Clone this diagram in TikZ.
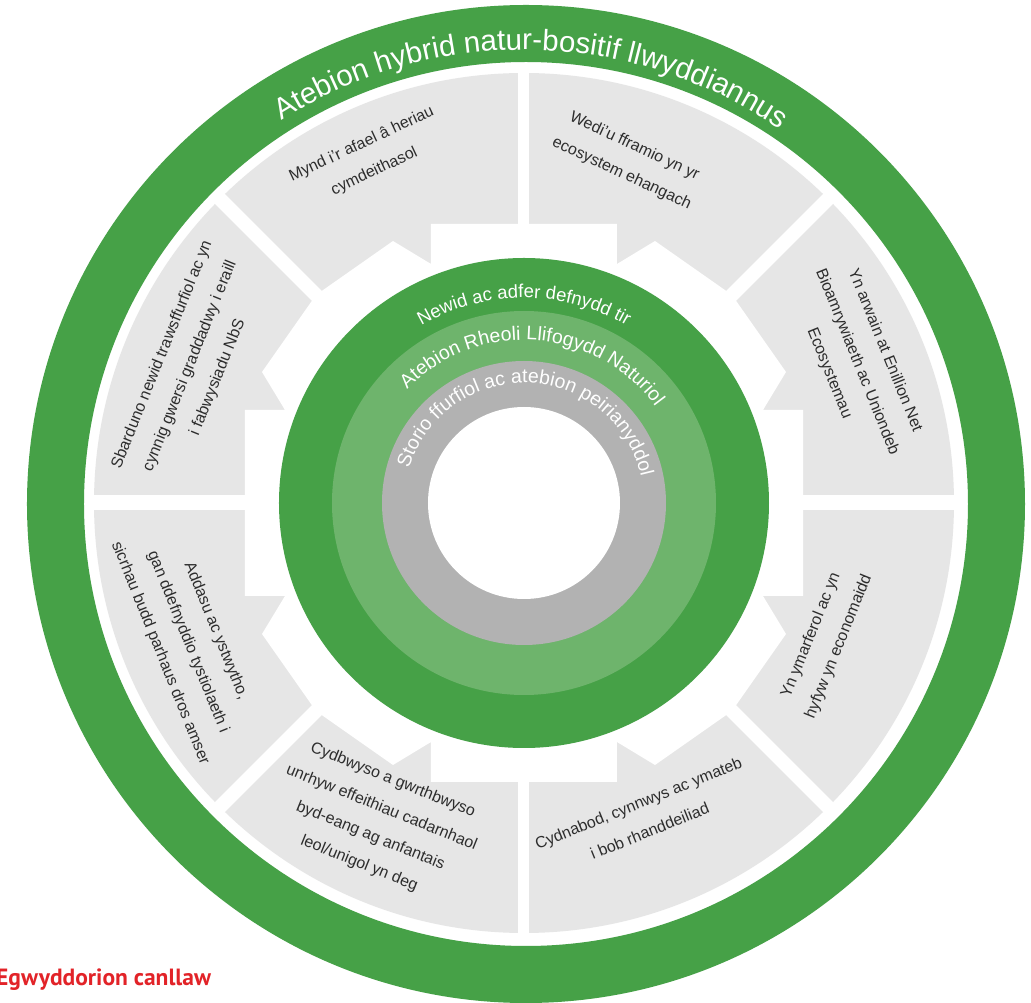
\documentclass[tikz,border=0pt]{standalone}
\usepackage{fontspec}
\setmainfont{Liberation Sans}
\newfontfamily\titlefnt{PT Sans}
\usetikzlibrary{decorations.text}
\definecolor{gdark}{RGB}{70,161,71}
\definecolor{glight}{RGB}{110,180,108}
\definecolor{gring}{RGB}{178,178,178}
\definecolor{gsect}{RGB}{230,230,230}
\definecolor{txtgray}{RGB}{45,45,45}
\definecolor{redt}{RGB}{226,35,40}
\newcommand{\myringtext}[4]{%
  \path[decorate,decoration={text along path,text align=center,text color=white,
    text={|\fontsize{#3}{#3}\selectfont|#4}}]
    ({#2+110}:#1pt) arc[start angle={#2+110}, end angle={#2-110}, radius=#1pt];}
\tikzset{
  secttext/.style={font=\fontsize{16}{30}\selectfont, text=txtgray, align=center, inner sep=0pt},
}
\begin{document}
\begin{tikzpicture}[x=1pt,y=1pt]
\useasboundingbox (-524,-500) rectangle (507,503);
\fill[white] (-524,-500) rectangle (507,503);
% gray sectors
\fill[gsect] (0,0) circle[radius=430pt];
\fill[white] (279,0) -- (279,93) -- (239,93) -- (262,131) -- (208,208)
  -- (131,262) -- (93,239) -- (93,279) -- (0,279)
  -- (-93,279) -- (-93,239) -- (-131,262) -- (-208,208)
  -- (-262,131) -- (-239,93) -- (-279,93) -- (-279,0)
  -- (-279,-93) -- (-239,-93) -- (-262,-131) -- (-208,-208)
  -- (-131,-262) -- (-93,-239) -- (-93,-279) -- (0,-279)
  -- (93,-279) -- (93,-239) -- (131,-262) -- (208,-208)
  -- (262,-131) -- (239,-93) -- (279,-93) -- cycle;
\foreach \a/\w in {0/15,45/14,90/11,135/14,180/15,225/14,270/11,315/14}
  \draw[white, line width=\w pt] (\a:250) -- (\a:436);
% outer green ring
\fill[gdark, even odd rule] (2,-1) circle[radius=499pt] (2,-1) circle[radius=442pt];
% inner rings
\fill[gdark] (0,0) circle[radius=245pt];
\fill[glight] (0,0) circle[radius=192pt];
\fill[gring] (0,0) circle[radius=142pt];
\fill[white] (0,0) circle[radius=96pt];
% ring texts
\myringtext{453}{89}{29.5}{Atebion hybrid natur-bositif llwyddiannus}
\myringtext{205}{90}{18.5}{Newid ac adfer defnydd tir}
\myringtext{163}{86}{19.5}{Atebion Rheoli Llifogydd Naturiol}
\myringtext{120}{88}{19.5}{Storio ffurfiol ac atebion peirianyddol}
% sector texts
\node[secttext, rotate=25] (mynd) at (-156,345) {Mynd i’r afael â heriau\\cymdeithasol};
\node[secttext, rotate=-25] (wedi) at (104,343) {Wedi’u fframio yn yr\\ecosystem ehangach};
\node[secttext, rotate=68] (sbard) at (-334,137) {Sbarduno newid trawsffurfiol ac yn\\cynnig gwersi graddadwy i eraill\\i fabwysiadu NbS};
\node[secttext, rotate=-68] (arwain) at (333,141) {Yn arwain at Enillion Net\\Bioamrywiaeth ac Uniondeb\\Ecosystemau};
\node[secttext, rotate=-68] (addasu) at (-336,-139) {Addasu ac ystwytho,\\gan ddefnyddio tystiolaeth i\\sicrhau budd parhaus dros amser};
\node[secttext, rotate=68] (ymarf) at (301,-138) {Yn ymarferol ac yn\\hyfyw yn economaidd};
\node[secttext, rotate=22] (cydnab) at (120,-314) {Cydnabod, cynnwys ac ymateb\\i bob rhanddeiliad};
\node[secttext, rotate=-22] (cydbw) at (-148,-319) {Cydbwyso a gwrthbwyso\\unrhyw effeithiau cadarnhaol\\byd-eang ag anfantais\\leol/unigol yn deg};
% title
\node[anchor=base west, font=\titlefnt\bfseries\fontsize{23.5}{25}\selectfont, text=redt, inner sep=0pt] (title) at (-528,-482) {Egwyddorion canllaw};
\end{tikzpicture}
\end{document}
